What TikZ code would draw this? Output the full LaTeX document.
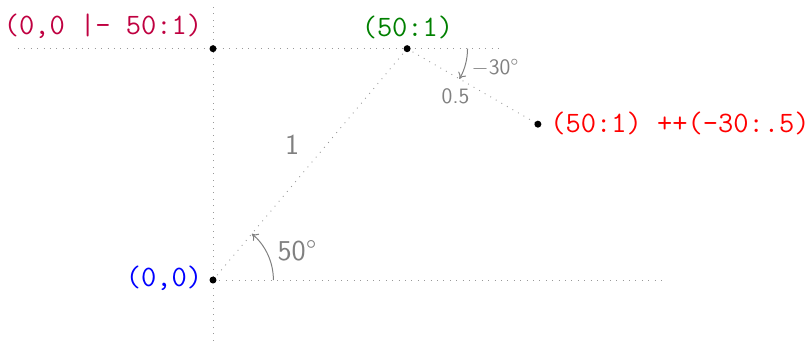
\documentclass[tikz,border=0pt]{standalone}
\usetikzlibrary{arrows.meta,calc}
\tikzset{
  guide/.style={gray!80, line width=0.45pt, dash pattern=on 0.45pt off 2.75pt},
  pt/.style={circle, fill=black, inner sep=0pt, minimum size=3.5pt},
  codelbl/.style={inner sep=0pt, font=\ttfamily\fontsize{14.8}{17}\selectfont},
  biglbl/.style={inner sep=0pt, text=gray, font=\sffamily\fontsize{14.4}{17}\selectfont},
  smalllbl/.style={inner sep=0pt, text=gray, font=\sffamily\fontsize{11}{13}\selectfont},
  anglearc/.style={gray, line width=0.5pt, -{To[length=3pt,width=4.5pt]}}
}
\begin{document}
\begin{tikzpicture}[x=151pt,y=151pt]
\useasboundingbox (-0.7053,-0.1987) rectangle (1.9702,0.9272);
% key points
\coordinate (O) at (0,0);
\coordinate (P) at (50:1);
\coordinate (Q) at ($(P)+(-30:.5)$);
\coordinate (T) at (0,0 |- 50:1);
% guide lines
\coordinate (hl) at (-0.646,0 |- P);
\coordinate (hr) at (0.95,0 |- P);
\coordinate (vt) at (0,0.905);
\coordinate (vb) at (0,-0.2);
\coordinate (br) at (1.5,0);
\draw[guide] (hl) -- (hr);
\draw[guide] (vb) -- (vt);
\draw[guide] (O) -- (br);
\draw[guide] (O) -- (P);
\draw[guide] (P) -- (Q);
% angle arcs
\draw[anglearc] ([xshift=0.2*151pt]O) arc[start angle=0, end angle=50, radius=0.2];
\draw[anglearc] ([xshift=0.2*151pt]P) arc[start angle=0, end angle=-30, radius=0.2];
% dots
\node[pt] (dO) at (O) {};
\node[pt] (dP) at (P) {};
\node[pt] (dQ) at (Q) {};
\node[pt] (dT) at (T) {};
% code labels
\node[codelbl, text=purple, anchor=base east] (lT) at (-0.035,0.8146) {(0,0 |- 50:1)};
\node[codelbl, text=green!50!black, anchor=base] (lP) at (0.644,0.808) {(50:1)};
\node[codelbl, text=red, anchor=base west] (lQ) at (1.116,0.487) {(50:1) ++(-30:.5)};
\node[codelbl, text=blue, anchor=base east] (lO) at (-0.035,-0.0199) {(0,0)};
% measure labels
\node[biglbl, anchor=base] (l1) at (0.262,0.417) {1};
\node[biglbl, anchor=base] (l50) at (0.278,0.066) {50\textdegree};
\node[smalllbl, anchor=base] (l05) at (0.803,0.586) {0.5};
\node[smalllbl, anchor=base] (l30) at (0.934,0.679) {$-$30\textdegree};
\end{tikzpicture}
\end{document}
